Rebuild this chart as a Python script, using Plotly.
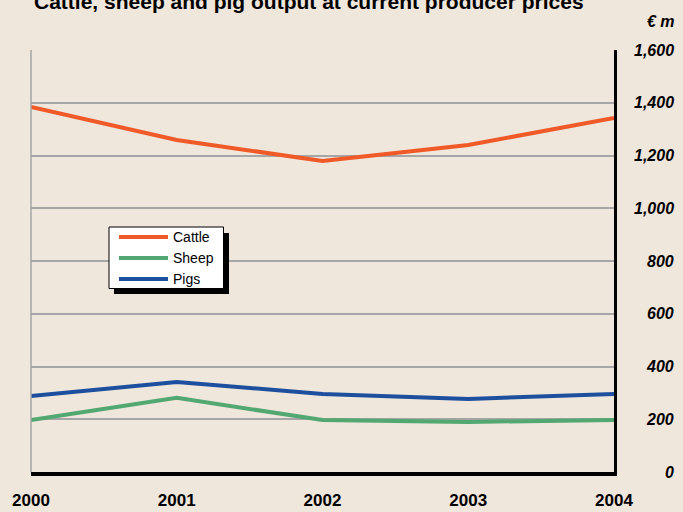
import plotly.graph_objects as go

years = [2000, 2001, 2002, 2003, 2004]
cattle = [1384, 1259, 1179, 1240, 1342]
sheep = [197, 281, 197, 190, 197]
pigs = [288, 341, 296, 277, 296]
series_names = ["Cattle", "Sheep", "Pigs"]
y_ticks = [0, 200, 400, 600, 800, 1000, 1200, 1400, 1600]
y_labels = ["0", "200", "400", "600", "800", "1,000", "1,200", "1,400", "1,600"]
x_labels = ["2000", "2001", "2002", "2003", "2004"]

BG = "#EFE6DC"
colors = ["#F05A28", "#52A870", "#1D4F9E"]
fig = go.Figure()
for name, vals, col in zip(series_names, [cattle, sheep, pigs], colors):
    fig.add_trace(go.Scatter(x=years, y=vals, name=name, mode="lines",
                             line=dict(color=col, width=4)))

L, R, T, B = 31, 69, 50, 40
W, H = 683, 512
pw, ph = W - L - R, H - T - B

def px_x(p):
    return (p - L) / pw

def px_y(p):
    return (H - B - p) / ph

fig.update_layout(
    width=W, height=H,
    margin=dict(l=L, r=R, t=T, b=B, autoexpand=False),
    paper_bgcolor=BG, plot_bgcolor=BG,
    font=dict(family="Liberation Sans, Arial, sans-serif", color="#000000"),
    showlegend=False,
    xaxis=dict(range=[2000, 2004], tickvals=years, ticktext=x_labels,
               showgrid=False, zeroline=False,
               showline=True, linecolor="#000000", linewidth=4,
               ticks="outside", ticklen=10, tickcolor="rgba(0,0,0,0)",
               tickfont=dict(size=17, family="Liberation Sans, Arial", weight="bold")),
    yaxis=dict(range=[0, 1600], tickvals=y_ticks, showticklabels=False,
               side="right", showgrid=True, gridcolor="#A6A6A6", gridwidth=2,
               zeroline=False, showline=True, linecolor="#000000", linewidth=2.5,
               ticks=""),
)

# left border (thin gray)
fig.add_shape(type="line", xref="paper", yref="paper", x0=0, x1=0, y0=0, y1=1,
              line=dict(color="#A6A6A6", width=1.5))

# legend box with drop shadow
fig.add_shape(type="rect", xref="paper", yref="paper",
              x0=px_x(114), x1=px_x(229), y0=px_y(294), y1=px_y(233),
              fillcolor="#000000", line=dict(width=0), layer="above")
fig.add_shape(type="rect", xref="paper", yref="paper",
              x0=px_x(109), x1=px_x(223.5), y0=px_y(288.5), y1=px_y(227),
              fillcolor="#FFFFFF", line=dict(color="#000000", width=1), layer="above")
for i, (name, col) in enumerate(zip(series_names, colors)):
    yy = 237 + i * 21
    fig.add_shape(type="line", xref="paper", yref="paper",
                  x0=px_x(119), x1=px_x(168), y0=px_y(yy), y1=px_y(yy),
                  line=dict(color=col, width=4), layer="above")
    fig.add_annotation(x=px_x(171), y=px_y(yy), xref="paper", yref="paper",
                       text=name, showarrow=False, xanchor="left", yanchor="middle",
                       font=dict(size=14, family="Liberation Sans, Arial"))

for v, lab in zip(y_ticks, y_labels):
    fig.add_annotation(x=px_x(676), y=v, xref="paper", yref="y", text=lab,
                       showarrow=False, xanchor="right", yanchor="middle",
                       font=dict(size=16, family="Liberation Sans, Arial",
                                 weight="bold", style="italic"))

fig.add_annotation(x=px_x(677), y=px_y(22), xref="paper", yref="paper", text="€ m",
                   showarrow=False, xanchor="right", yanchor="middle",
                   font=dict(size=16, family="Liberation Sans, Arial",
                             weight="bold", style="italic"))

fig.add_annotation(x=px_x(32), y=px_y(1.5), xref="paper", yref="paper",
                   text="Cattle, sheep and pig output at current producer prices",
                   showarrow=False, xanchor="left", yanchor="middle",
                   font=dict(size=21, family="Liberation Sans, Arial", weight="bold"))

fig.write_html("out.html", post_script="document.body.style.margin='0';",
               config={"displayModeBar": False})
